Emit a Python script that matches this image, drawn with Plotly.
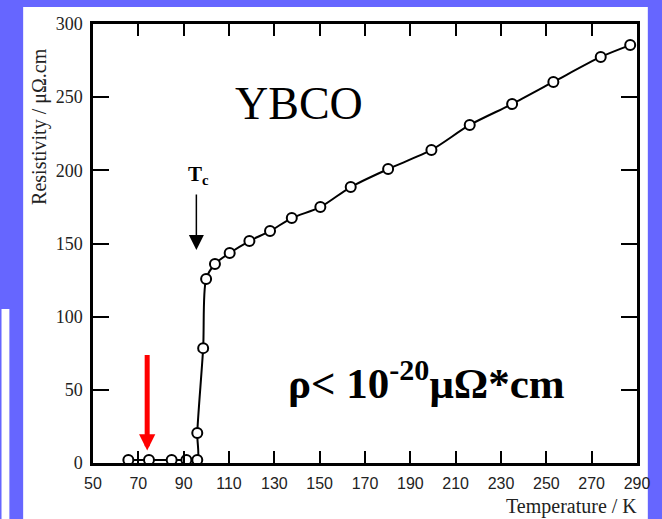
import plotly.graph_objects as go

# Data (Temperature in K, Resistivity in µΩ·cm)
temperature = [65.6, 74.7, 84.7, 91.2, 96.0, 96.0, 98.6, 99.9, 103.8, 110.3, 119.0,
               128.1, 137.7, 150.3, 163.7, 180.2, 199.3, 216.2, 234.9, 253.1, 274.0, 287.0]
resistivity = [2, 2, 2, 2, 2, 20.5, 78.5, 125.7, 136.0, 143.5, 151.7,
               158.5, 167.4, 174.9, 188.6, 200.9, 213.9, 231.0, 245.3, 260.4, 277.5, 285.6]

x_tickvals = [50, 70, 90, 110, 130, 150, 170, 190, 210, 230, 250, 270, 290]
y_tickvals = [0, 50, 100, 150, 200, 250, 300]

W, H = 662, 519
L, R, T, B = 93, 16, 24, 56
pw, ph = W - L - R, H - T - B


def px(xp):
    return (xp - L) / pw


def py(yp):
    return (H - B - yp) / ph


fig = go.Figure()
fig.add_trace(go.Scatter(
    x=temperature, y=resistivity, mode="lines+markers",
    line=dict(color="black", width=2, shape="spline", smoothing=0.8),
    marker=dict(size=10, color="white", line=dict(color="black", width=2)),
    cliponaxis=False, showlegend=False, hoverinfo="skip"))

shapes = [
    dict(type="rect", xref="paper", yref="paper", x0=px(22), x1=px(657), y0=py(519), y1=py(7),
         fillcolor="white", line=dict(width=0), layer="below"),
    dict(type="rect", xref="paper", yref="paper", x0=px(0), x1=px(8), y0=py(519), y1=py(309),
         fillcolor="white", line=dict(width=0), layer="below"),
]

annotations = [
    dict(x=141, y=246, xref="x", yref="y", text="YBCO", showarrow=False,
         font=dict(family="Liberation Serif", size=46, color="black")),
    dict(x=197, y=57, xref="x", yref="y", text="<b>ρ< 10<sup>-20</sup>μΩ*cm</b>", showarrow=False,
         font=dict(family="Liberation Serif", size=43, color="black")),
    dict(x=96.6, y=197, xref="x", yref="y", text="<b>T<sub>c</sub></b>", showarrow=False,
         font=dict(family="Liberation Serif", size=21, color="black")),
    # Tc arrow
    dict(x=95.6, y=145.5, xref="x", yref="y", ax=0, ay=-57, text="", showarrow=True,
         arrowhead=2, arrowwidth=1.5, arrowsize=2, arrowcolor="black"),
    # red arrow
    dict(x=73.9, y=8.5, xref="x", yref="y", ax=0, ay=-97, text="", showarrow=True,
         arrowhead=2, arrowwidth=5, arrowsize=0.65, arrowcolor="#ff0000"),
    dict(x=px(38), y=py(126), xref="paper", yref="paper", text="Resistivity / μΩ.cm",
         textangle=-90, showarrow=False, xanchor="center", yanchor="middle",
         font=dict(family="Liberation Serif", size=20, color="#222")),
    dict(x=px(648), y=py(507), xref="paper", yref="paper", text="Temperature / K",
         xanchor="right", yanchor="middle", showarrow=False,
         font=dict(family="Liberation Serif", size=20, color="#222")),
]

fig.update_layout(
    width=W, height=H, margin=dict(l=L, r=R, t=T, b=B, pad=0),
    paper_bgcolor="#6666ff", plot_bgcolor="white",
    shapes=shapes, annotations=annotations,
    xaxis=dict(range=[50, 290], tickvals=x_tickvals, ticktext=[str(v) for v in x_tickvals],
               showgrid=False, zeroline=False, showline=True, linecolor="black", linewidth=2.5,
               mirror="ticks", ticks="inside", ticklen=12, tickwidth=2, tickcolor="black",
               ticklabelstandoff=4,
               tickfont=dict(family="Liberation Sans", size=16, color="#222")),
    yaxis=dict(range=[0, 300], tickvals=y_tickvals, ticktext=[str(v) for v in y_tickvals],
               showgrid=False, zeroline=False, showline=True, linecolor="black", linewidth=2.5,
               mirror="ticks", ticks="inside", ticklen=16, tickwidth=2, tickcolor="black",
               ticklabelstandoff=4,
               tickfont=dict(family="Liberation Serif", size=18, color="#222")),
)

fig.write_html("out.html", config={"displayModeBar": False},
               post_script="document.body.style.margin='0px';document.body.style.overflow='hidden';")
